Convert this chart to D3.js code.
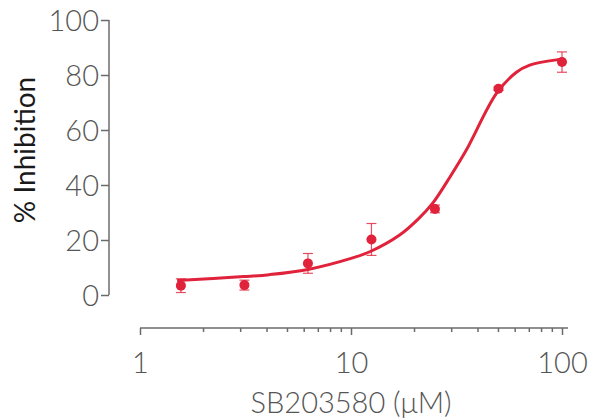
<!DOCTYPE html>
<html>
<head>
<meta charset="utf-8">
<script src="https://cdn.jsdelivr.net/npm/d3@7"></script>
<style>
  body { margin: 0; background: #fff; }
  text { font-family: Lato, "Open Sans", sans-serif; }
</style>
</head>
<body>
<svg id="chart" width="591" height="419"></svg>
<script>
// measured points (concentration in uM, mean % inhibition, error)
var doses = [1.5625, 3.125, 6.25, 12.5, 25, 50, 100];
var means = [3.4, 3.6, 11.5, 20.2, 31.3, 75.0, 84.7];
var errors = [2.5, 1.8, 3.6, 5.8, 1.4, 0.6, 3.7];

// fitted curve
var fitX = [1.5, 3.1, 4.1, 6.25, 10, 12.5, 17, 20.8, 24.5, 29.5, 35.2, 48.9, 60.8, 70.3, 94, 100];
var fitY = [5.3, 6.7, 7.4, 9.3, 13.3, 16.0, 21.8, 27.6, 33.6, 43.0, 52.7, 73.3, 81.0, 83.6, 85.5, 85.7];

var yTicks = [0, 20, 40, 60, 80, 100];
var xTicks = [1, 10, 100];

var red = "#e0223a";
var axisGrey = "#6b6b6b";

var svg = d3.select("#chart");

var x = d3.scaleLog().domain([1, 100]).range([140, 562]);
var y = d3.scaleLinear().domain([0, 100]).range([295, 20]);

// y axis
var yAxis = d3.axisLeft(y).tickValues(yTicks).tickSize(8).tickPadding(2);
var gy = svg.append("g")
  .attr("transform", "translate(109,0)")
  .call(yAxis);
gy.select(".domain").attr("d", "M0," + y(100) + "V" + y(0));

// x axis with minor ticks
var minor = [];
for (var d = 1; d <= 100; d *= 10) {
  for (var k = 2; k <= 9 && d < 100; k++) minor.push(d * k);
}
var gx = svg.append("g")
  .attr("transform", "translate(0,328)")
  .call(d3.axisBottom(x).tickValues(xTicks).tickFormat(d3.format("d")).tickSize(7).tickPadding(17));
gx.select(".domain").attr("d", "M140,0H568");
gx.selectAll(".minor").data(minor).enter()
  .append("line")
  .attr("class", "minor")
  .attr("x1", function (v) { return x(v); })
  .attr("x2", function (v) { return x(v); })
  .attr("y1", 0)
  .attr("y2", 4);

svg.selectAll(".domain, .tick line, line.minor")
  .attr("stroke", axisGrey)
  .attr("stroke-width", 1.5);
svg.selectAll(".tick text")
  .attr("fill", "#555")
  .attr("font-size", 29)
  .attr("font-weight", 300)
  .attr("font-family", "Lato, sans-serif");
gy.selectAll(".tick text").attr("dy", "0.36em");

// titles
svg.append("text")
  .attr("transform", "translate(35,150) rotate(-90)")
  .attr("text-anchor", "middle")
  .attr("font-size", 28)
  .attr("fill", "#1a1a1a")
  .text("% Inhibition");

svg.append("text")
  .attr("x", 351)
  .attr("y", 413)
  .attr("text-anchor", "middle")
  .attr("font-size", 29)
  .attr("font-weight", 300)
  .attr("fill", "#555")
  .text("SB203580 (μM)");

// fit curve
var line = d3.line()
  .x(function (d, i) { return x(fitX[i]); })
  .y(function (d, i) { return y(fitY[i]); })
  .curve(d3.curveCatmullRom.alpha(0.5));

svg.append("path")
  .attr("d", line(fitX))
  .attr("fill", "none")
  .attr("stroke", red)
  .attr("stroke-width", 3);

// error bars
var bars = svg.append("g")
  .attr("stroke", red)
  .attr("stroke-width", 1.2)
  .attr("stroke-opacity", 0.8);
doses.forEach(function (dose, i) {
  var cx = x(dose), top = y(means[i] + errors[i]), bot = y(means[i] - errors[i]);
  bars.append("line").attr("x1", cx).attr("x2", cx).attr("y1", top).attr("y2", bot);
  bars.append("line").attr("x1", cx - 5).attr("x2", cx + 5).attr("y1", top).attr("y2", top);
  bars.append("line").attr("x1", cx - 5).attr("x2", cx + 5).attr("y1", bot).attr("y2", bot);
});

// points
svg.selectAll("circle").data(doses).enter()
  .append("circle")
  .attr("cx", function (d) { return x(d); })
  .attr("cy", function (d, i) { return y(means[i]); })
  .attr("r", 5)
  .attr("fill", red);
</script>
</body>
</html>
